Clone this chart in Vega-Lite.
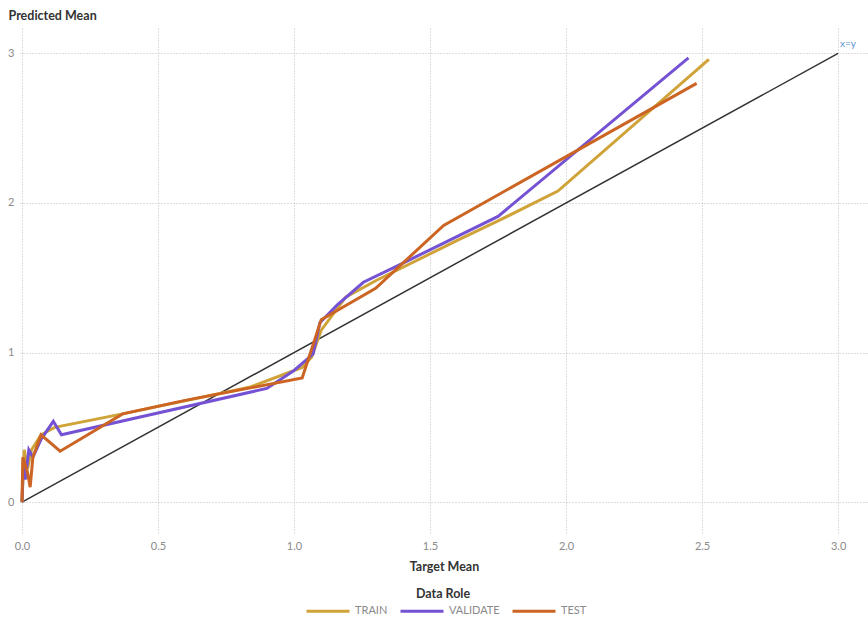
{
  "$schema": "https://vega.github.io/schema/vega-lite/v6.json",
  "width": 848,
  "height": 507,
  "autosize": {"type": "none"},
  "padding": {"left": 20, "top": 28, "right": 0, "bottom": 84},
  "background": "white",
  "config": {
    "font": "Lato",
    "view": {"stroke": null},
    "axis": {
      "domain": false,
      "ticks": false,
      "gridColor": "#bdbdbd",
      "gridDash": [1, 2],
      "gridWidth": 1,
      "labelColor": "#8a8a8a",
      "labelFontSize": 11,
      "titleColor": "#333333",
      "titleFontSize": 12.5,
      "titleFontWeight": "bold"
    }
  },
  "datasets": {
    "series": [
      {"role": "TRAIN", "x": 0, "y": 0},
      {"role": "TRAIN", "x": 0.008, "y": 0.35},
      {"role": "TRAIN", "x": 0.02, "y": 0.22},
      {"role": "TRAIN", "x": 0.035, "y": 0.35},
      {"role": "TRAIN", "x": 0.07, "y": 0.45},
      {"role": "TRAIN", "x": 0.12, "y": 0.5},
      {"role": "TRAIN", "x": 0.37, "y": 0.59},
      {"role": "TRAIN", "x": 0.84, "y": 0.77},
      {"role": "TRAIN", "x": 1.03, "y": 0.9},
      {"role": "TRAIN", "x": 1.065, "y": 0.97},
      {"role": "TRAIN", "x": 1.1, "y": 1.15},
      {"role": "TRAIN", "x": 1.19, "y": 1.37},
      {"role": "TRAIN", "x": 1.3, "y": 1.48},
      {"role": "TRAIN", "x": 1.6, "y": 1.75},
      {"role": "TRAIN", "x": 1.75, "y": 1.88},
      {"role": "TRAIN", "x": 1.97, "y": 2.08},
      {"role": "TRAIN", "x": 2.525, "y": 2.96},
      {"role": "VALIDATE", "x": 0, "y": 0},
      {"role": "VALIDATE", "x": 0.005, "y": 0.28},
      {"role": "VALIDATE", "x": 0.012, "y": 0.15},
      {"role": "VALIDATE", "x": 0.025, "y": 0.35},
      {"role": "VALIDATE", "x": 0.04, "y": 0.3},
      {"role": "VALIDATE", "x": 0.07, "y": 0.42},
      {"role": "VALIDATE", "x": 0.115, "y": 0.54},
      {"role": "VALIDATE", "x": 0.145, "y": 0.45},
      {"role": "VALIDATE", "x": 0.9, "y": 0.76},
      {"role": "VALIDATE", "x": 1.0, "y": 0.88},
      {"role": "VALIDATE", "x": 1.07, "y": 0.99},
      {"role": "VALIDATE", "x": 1.095, "y": 1.2},
      {"role": "VALIDATE", "x": 1.16, "y": 1.32},
      {"role": "VALIDATE", "x": 1.255, "y": 1.47},
      {"role": "VALIDATE", "x": 1.38, "y": 1.58},
      {"role": "VALIDATE", "x": 1.75, "y": 1.91},
      {"role": "VALIDATE", "x": 2.45, "y": 2.97},
      {"role": "TEST", "x": 0, "y": 0},
      {"role": "TEST", "x": 0.003, "y": 0.3},
      {"role": "TEST", "x": 0.02, "y": 0.2},
      {"role": "TEST", "x": 0.03, "y": 0.1},
      {"role": "TEST", "x": 0.04, "y": 0.3},
      {"role": "TEST", "x": 0.07, "y": 0.45},
      {"role": "TEST", "x": 0.14, "y": 0.34},
      {"role": "TEST", "x": 0.37, "y": 0.59},
      {"role": "TEST", "x": 0.6, "y": 0.68},
      {"role": "TEST", "x": 1.03, "y": 0.83},
      {"role": "TEST", "x": 1.1, "y": 1.22},
      {"role": "TEST", "x": 1.3, "y": 1.43},
      {"role": "TEST", "x": 1.55, "y": 1.85},
      {"role": "TEST", "x": 2.48, "y": 2.8}
    ],
    "ref": [
      {"x": 0, "y": 0, "label": ""},
      {"x": 3, "y": 3, "label": "x=y"}
    ]
  },
  "layer": [
    {
      "data": {"name": "ref"},
      "mark": {"type": "line", "color": "#333333", "strokeWidth": 1.5},
      "encoding": {
        "x": {"field": "x", "type": "quantitative", "scale": {"domain": [-0.0074, 3.11], "nice": false, "zero": false},
          "axis": {"values": [0, 0.5, 1, 1.5, 2, 2.5, 3], "format": ".1f", "title": "Target Mean", "labelPadding": 5, "titlePadding": 9}},
        "y": {"field": "y", "type": "quantitative", "scale": {"domain": [-0.22, 3.17], "nice": false, "zero": false},
          "axis": {"values": [0, 1, 2, 3], "format": "d", "title": "Predicted Mean", "titleAngle": 0, "titleAlign": "left", "titleBaseline": "middle", "titleX": -12, "titleY": -13, "labelPadding": 6}}
      }
    },
    {
      "data": {"name": "series"},
      "mark": {"type": "line", "strokeWidth": 3},
      "encoding": {
        "x": {"field": "x", "type": "quantitative"},
        "y": {"field": "y", "type": "quantitative"},
        "color": {
          "field": "role",
          "type": "nominal",
          "sort": ["TRAIN", "VALIDATE", "TEST"],
          "scale": {"domain": ["TRAIN", "VALIDATE", "TEST"], "range": ["#CFA338", "#7452D3", "#CC6523"]},
          "legend": {
            "title": "Data Role",
            "orient": "none",
            "legendX": 280,
            "legendY": 560,
            "direction": "horizontal",
            "titleOrient": "top",
            "titleAnchor": "middle",
            "titleColor": "#333333",
            "titleFontSize": 12.5,
            "titleFontWeight": "bold",
            "titlePadding": 4,
            "labelColor": "#8a8a8a",
            "labelFontSize": 11,
            "symbolType": "M0,0H8.6",
            "symbolSize": 100,
            "symbolStrokeWidth": 3,
            "labelOffset": 42,
            "columnPadding": 6
          }
        }
      }
    },
    {
      "data": {"name": "ref"},
      "mark": {"type": "text", "color": "#5B8FD0", "fontSize": 10, "align": "left", "dx": 2, "dy": -9},
      "encoding": {
        "x": {"field": "x", "type": "quantitative"},
        "y": {"field": "y", "type": "quantitative"},
        "text": {"field": "label"}
      }
    }
  ]
}
